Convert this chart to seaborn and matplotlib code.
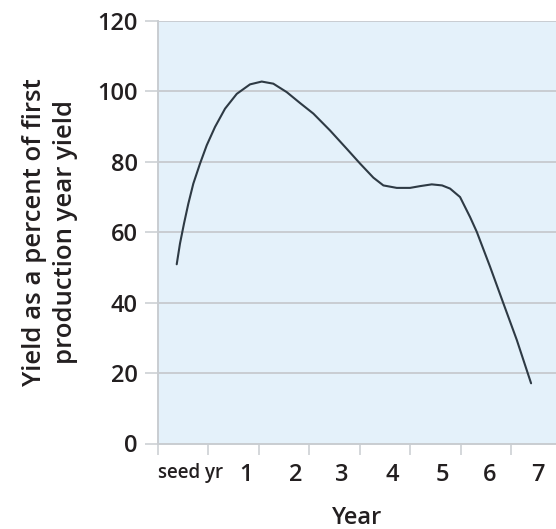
import matplotlib
matplotlib.use("Agg")
import matplotlib.pyplot as plt
import seaborn as sns
import pandas as pd

# Yield curve, x in year-tick units (0 = start of seed year)
year_pos = [0.371, 0.436, 0.516, 0.601, 0.700, 0.833, 0.966, 1.130, 1.329, 1.561,
            1.824, 2.056, 2.286, 2.552, 2.816, 3.080, 3.411, 3.742, 4.006, 4.270,
            4.468, 4.733, 4.997, 5.195, 5.427, 5.632, 5.790, 5.988, 6.187, 6.320,
            6.583, 6.847, 7.113, 7.396]
yield_pct = [50.9, 56.8, 62.5, 68.1, 73.8, 79.5, 84.7, 89.9, 95.1, 99.3,
             102.0, 102.8, 102.2, 99.8, 96.7, 93.7, 88.9, 83.7, 79.5, 75.5,
             73.3, 72.6, 72.6, 73.1, 73.6, 73.3, 72.4, 70.0, 64.3, 60.1,
             50.2, 39.8, 29.4, 17.1]

# Category labels sit between the year boundary ticks
tick_labels = ["seed yr", "1", "2", "3", "4", "5", "6", "7"]
label_pos = [0.654, 1.745, 2.737, 3.649, 4.640, 5.632, 6.584, 7.536]
boundary_ticks = [0, 1, 2, 3, 4, 5, 6, 7]
y_ticks = [0, 20, 40, 60, 80, 100, 120]

df = pd.DataFrame({"year": year_pos, "yield": yield_pct})

sns.set_theme(style="white")
plt.rcParams["font.family"] = ["Open Sans", "DejaVu Sans"]
plt.rcParams["font.weight"] = 600
plt.rcParams["axes.labelweight"] = 600

grid_col = "#c9cdd1"
text_col = "#231f20"

fig = plt.figure(figsize=(5.56, 5.29), dpi=100)
ax = fig.add_axes([158 / 556, (529 - 443.5) / 529, (556 - 158) / 556, (443.5 - 21) / 529])
ax.set_facecolor("#e4f1fa")

sns.lineplot(data=df, x="year", y="yield", ax=ax, color="#2e3a44", linewidth=1.5, sort=False)

ax.set_xlim(0, 7.89)
ax.set_ylim(0, 120)

ax.set_yticks(y_ticks)
ax.set_yticklabels([str(v) for v in y_ticks])
ax.yaxis.grid(True, color=grid_col, linewidth=1.4)
ax.xaxis.grid(False)
ax.tick_params(axis="y", length=9.5, width=1.1, color=grid_col, pad=5,
               labelsize=17, labelcolor=text_col, left=True)

ax.set_xticks(label_pos)
ax.set_xticklabels(tick_labels)
ax.set_xticks(boundary_ticks, minor=True)
ax.tick_params(axis="x", which="major", length=0, pad=14, labelsize=17, labelcolor=text_col)
ax.tick_params(axis="x", which="minor", length=8, width=1.1, color=grid_col, bottom=True)
for lbl in ax.get_xticklabels():
    if lbl.get_text() == "seed yr":
        lbl.set_fontsize(13.5)

for side in ("top", "right"):
    ax.spines[side].set_visible(False)
for side in ("left", "bottom"):
    ax.spines[side].set_color(grid_col)
    ax.spines[side].set_linewidth(1.4)

ax.set_xlabel("Year", fontsize=17, color=text_col, labelpad=14)
ax.set_ylabel("Yield as a percent of first\nproduction year yield", fontsize=18.5,
              color=text_col, labelpad=14, linespacing=1.3)

fig.savefig("out.png", dpi=100)
